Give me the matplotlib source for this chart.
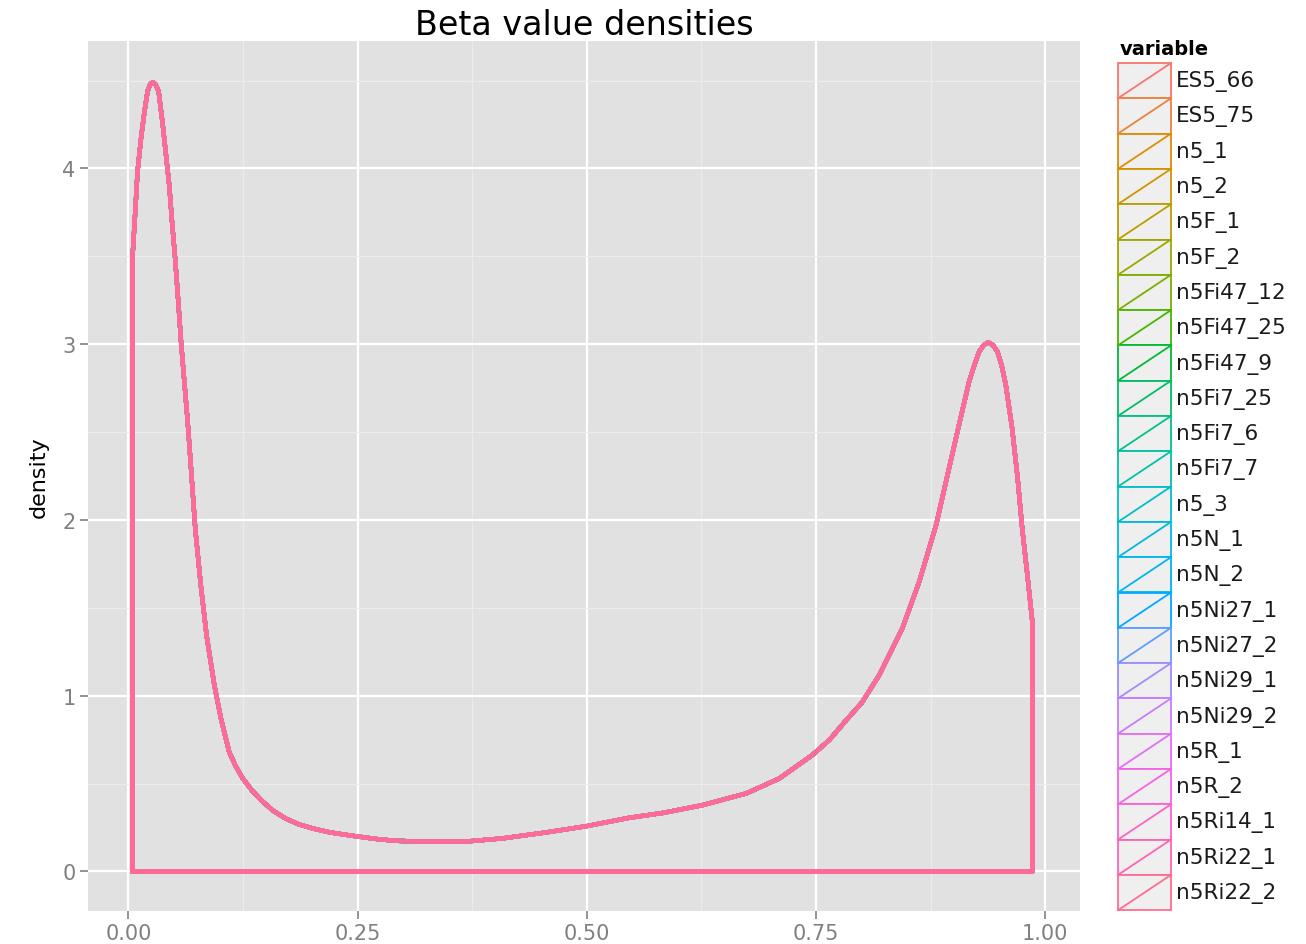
#
# Beta value densities: one density outline per sample, ggplot-like look.
#

import numpy as np
import matplotlib
matplotlib.use('Agg')
import matplotlib.pyplot as plt
from matplotlib.patches import Rectangle

samples = ["ES5_66", "ES5_75", "n5_1", "n5_2", "n5F_1", "n5F_2", "n5Fi47_12",
           "n5Fi47_25", "n5Fi47_9", "n5Fi7_25", "n5Fi7_6", "n5Fi7_7", "n5_3",
           "n5N_1", "n5N_2", "n5Ni27_1", "n5Ni27_2", "n5Ni29_1", "n5Ni29_2",
           "n5R_1", "n5R_2", "n5Ri14_1", "n5Ri22_1", "n5Ri22_2"]

# density curve (all samples overlap almost exactly)
beta = [0.0045, 0.0076, 0.0100, 0.0138, 0.0175, 0.0210, 0.0240, 0.0265, 0.0295,
        0.0330, 0.0375, 0.0410, 0.0447, 0.0476, 0.0510, 0.0545, 0.0574, 0.0610,
        0.0647, 0.0676, 0.0730, 0.0790, 0.0854, 0.0938, 0.1010, 0.1100, 0.1170,
        0.1247, 0.1350, 0.1460, 0.1580, 0.1720, 0.1860, 0.2009, 0.2200, 0.2445,
        0.2700, 0.2920, 0.3300, 0.3720, 0.4080, 0.4555, 0.4990, 0.5460, 0.5830,
        0.6260, 0.6740, 0.7100, 0.7460, 0.7650, 0.7830, 0.8000, 0.8190, 0.8440,
        0.8626, 0.8810, 0.8950, 0.9060, 0.9170, 0.9230, 0.9280, 0.9330, 0.9380,
        0.9430, 0.9480, 0.9525, 0.9570, 0.9640, 0.9700, 0.9750, 0.9810, 0.9860]
dens = [3.49, 3.76, 3.98, 4.17, 4.32, 4.44, 4.48, 4.49, 4.48,
        4.44, 4.25, 4.08, 3.90, 3.70, 3.49, 3.24, 3.02, 2.79,
        2.56, 2.35, 1.95, 1.63, 1.34, 1.06, 0.87, 0.68, 0.60,
        0.53, 0.46, 0.40, 0.345, 0.30, 0.268, 0.245, 0.222, 0.203,
        0.185, 0.174, 0.170, 0.172, 0.188, 0.222, 0.257, 0.305, 0.333,
        0.377, 0.444, 0.529, 0.662, 0.750, 0.861, 0.960, 1.117, 1.38,
        1.648, 1.97, 2.29, 2.54, 2.786, 2.885, 2.957, 2.995, 3.01,
        2.995, 2.957, 2.88, 2.77, 2.52, 2.236, 1.95, 1.667, 1.42]


def hcl_hex(h, c=100, l=65):
    # polar LUV -> sRGB, same as R's hcl()
    hr = np.deg2rad(h)
    u, v = c * np.cos(hr), c * np.sin(hr)
    xn, yn, zn = 95.047, 100.0, 108.883
    un = 4 * xn / (xn + 15 * yn + 3 * zn)
    vn = 9 * yn / (xn + 15 * yn + 3 * zn)
    Y = yn * ((l + 16) / 116) ** 3
    up = u / (13 * l) + un
    vp = v / (13 * l) + vn
    X = 9 * Y * up / (4 * vp)
    Z = -X / 3 - 5 * Y + 3 * Y / vp
    xyz = np.array([X, Y, Z]) / 100
    m = np.array([[3.240479, -1.537150, -0.498535],
                  [-0.969256, 1.875992, 0.041556],
                  [0.055648, -0.204043, 1.057311]])
    rgb = m @ xyz
    rgb = np.where(rgb > 0.00304, 1.055 * np.abs(rgb) ** (1 / 2.4) - 0.055, 12.92 * rgb)
    rgb = np.clip(rgb, 0, 1)
    return matplotlib.colors.to_hex(rgb)


n = len(samples)
colors = [hcl_hex(15 + 360 * i / n) for i in range(n)]

W, H = 1306, 945
plt.rcParams['font.family'] = ['DejaVu Sans']
fig = plt.figure(figsize=(W / 100, H / 100), dpi=100)

ax = fig.add_axes([88 / W, 33 / H, 992 / W, 870 / H])
ax.set_facecolor('#E1E1E1')
for s in ax.spines.values():
    s.set_visible(False)

xs = np.concatenate([[beta[0]], beta, [beta[-1], beta[0]]])
ys = np.concatenate([[0], dens, [0, 0]])
for i, name in enumerate(samples):
    ax.plot(xs, ys, color=colors[i], lw=3.0, solid_joinstyle='round', zorder=3)

ax.set_xlim(-0.044, 1.038)
ax.set_ylim(-0.225, 4.725)
ax.set_xticks([0, 0.25, 0.5, 0.75, 1.0])
ax.set_xticklabels(["0.00", "0.25", "0.50", "0.75", "1.00"])
ax.set_yticks([0, 1, 2, 3, 4])
ax.set_xticks([0.125, 0.375, 0.625, 0.875], minor=True)
ax.set_yticks([0.5, 1.5, 2.5, 3.5, 4.5], minor=True)
ax.grid(which='major', color='white', lw=1.6, zorder=0)
ax.grid(which='minor', color='#ECECEC', lw=0.9, zorder=0)
ax.set_axisbelow(True)
ax.tick_params(which='major', length=6, width=1.2, color='#808080',
               labelcolor='#808080', labelsize=15, pad=3)
ax.tick_params(which='minor', length=0)
ax.set_ylabel("density", fontsize=16, labelpad=10)
ax.set_title("Beta value densities", fontsize=24, pad=2)

# legend drawn by hand, ggplot style
lg = fig.add_axes([1110 / W, 33 / H, 196 / W, 880 / H])
lg.set_xlim(0, 196)
lg.set_ylim(880, 0)
lg.axis('off')
lg.text(10, 17, "variable", fontsize=14, fontweight='bold', va='center')
top, kh = 32, 35.3
for i, name in enumerate(samples):
    y0 = top + i * kh
    lg.add_patch(Rectangle((8, y0), 53, kh, facecolor='#EFEFEF',
                           edgecolor=colors[i], lw=1.3))
    lg.plot([8, 61], [y0 + kh, y0], color=colors[i], lw=1.3)
    lg.text(66, y0 + kh / 2, name, fontsize=15.5, va='center', color='#1a1a1a')

fig.savefig('out.png', dpi=100)
